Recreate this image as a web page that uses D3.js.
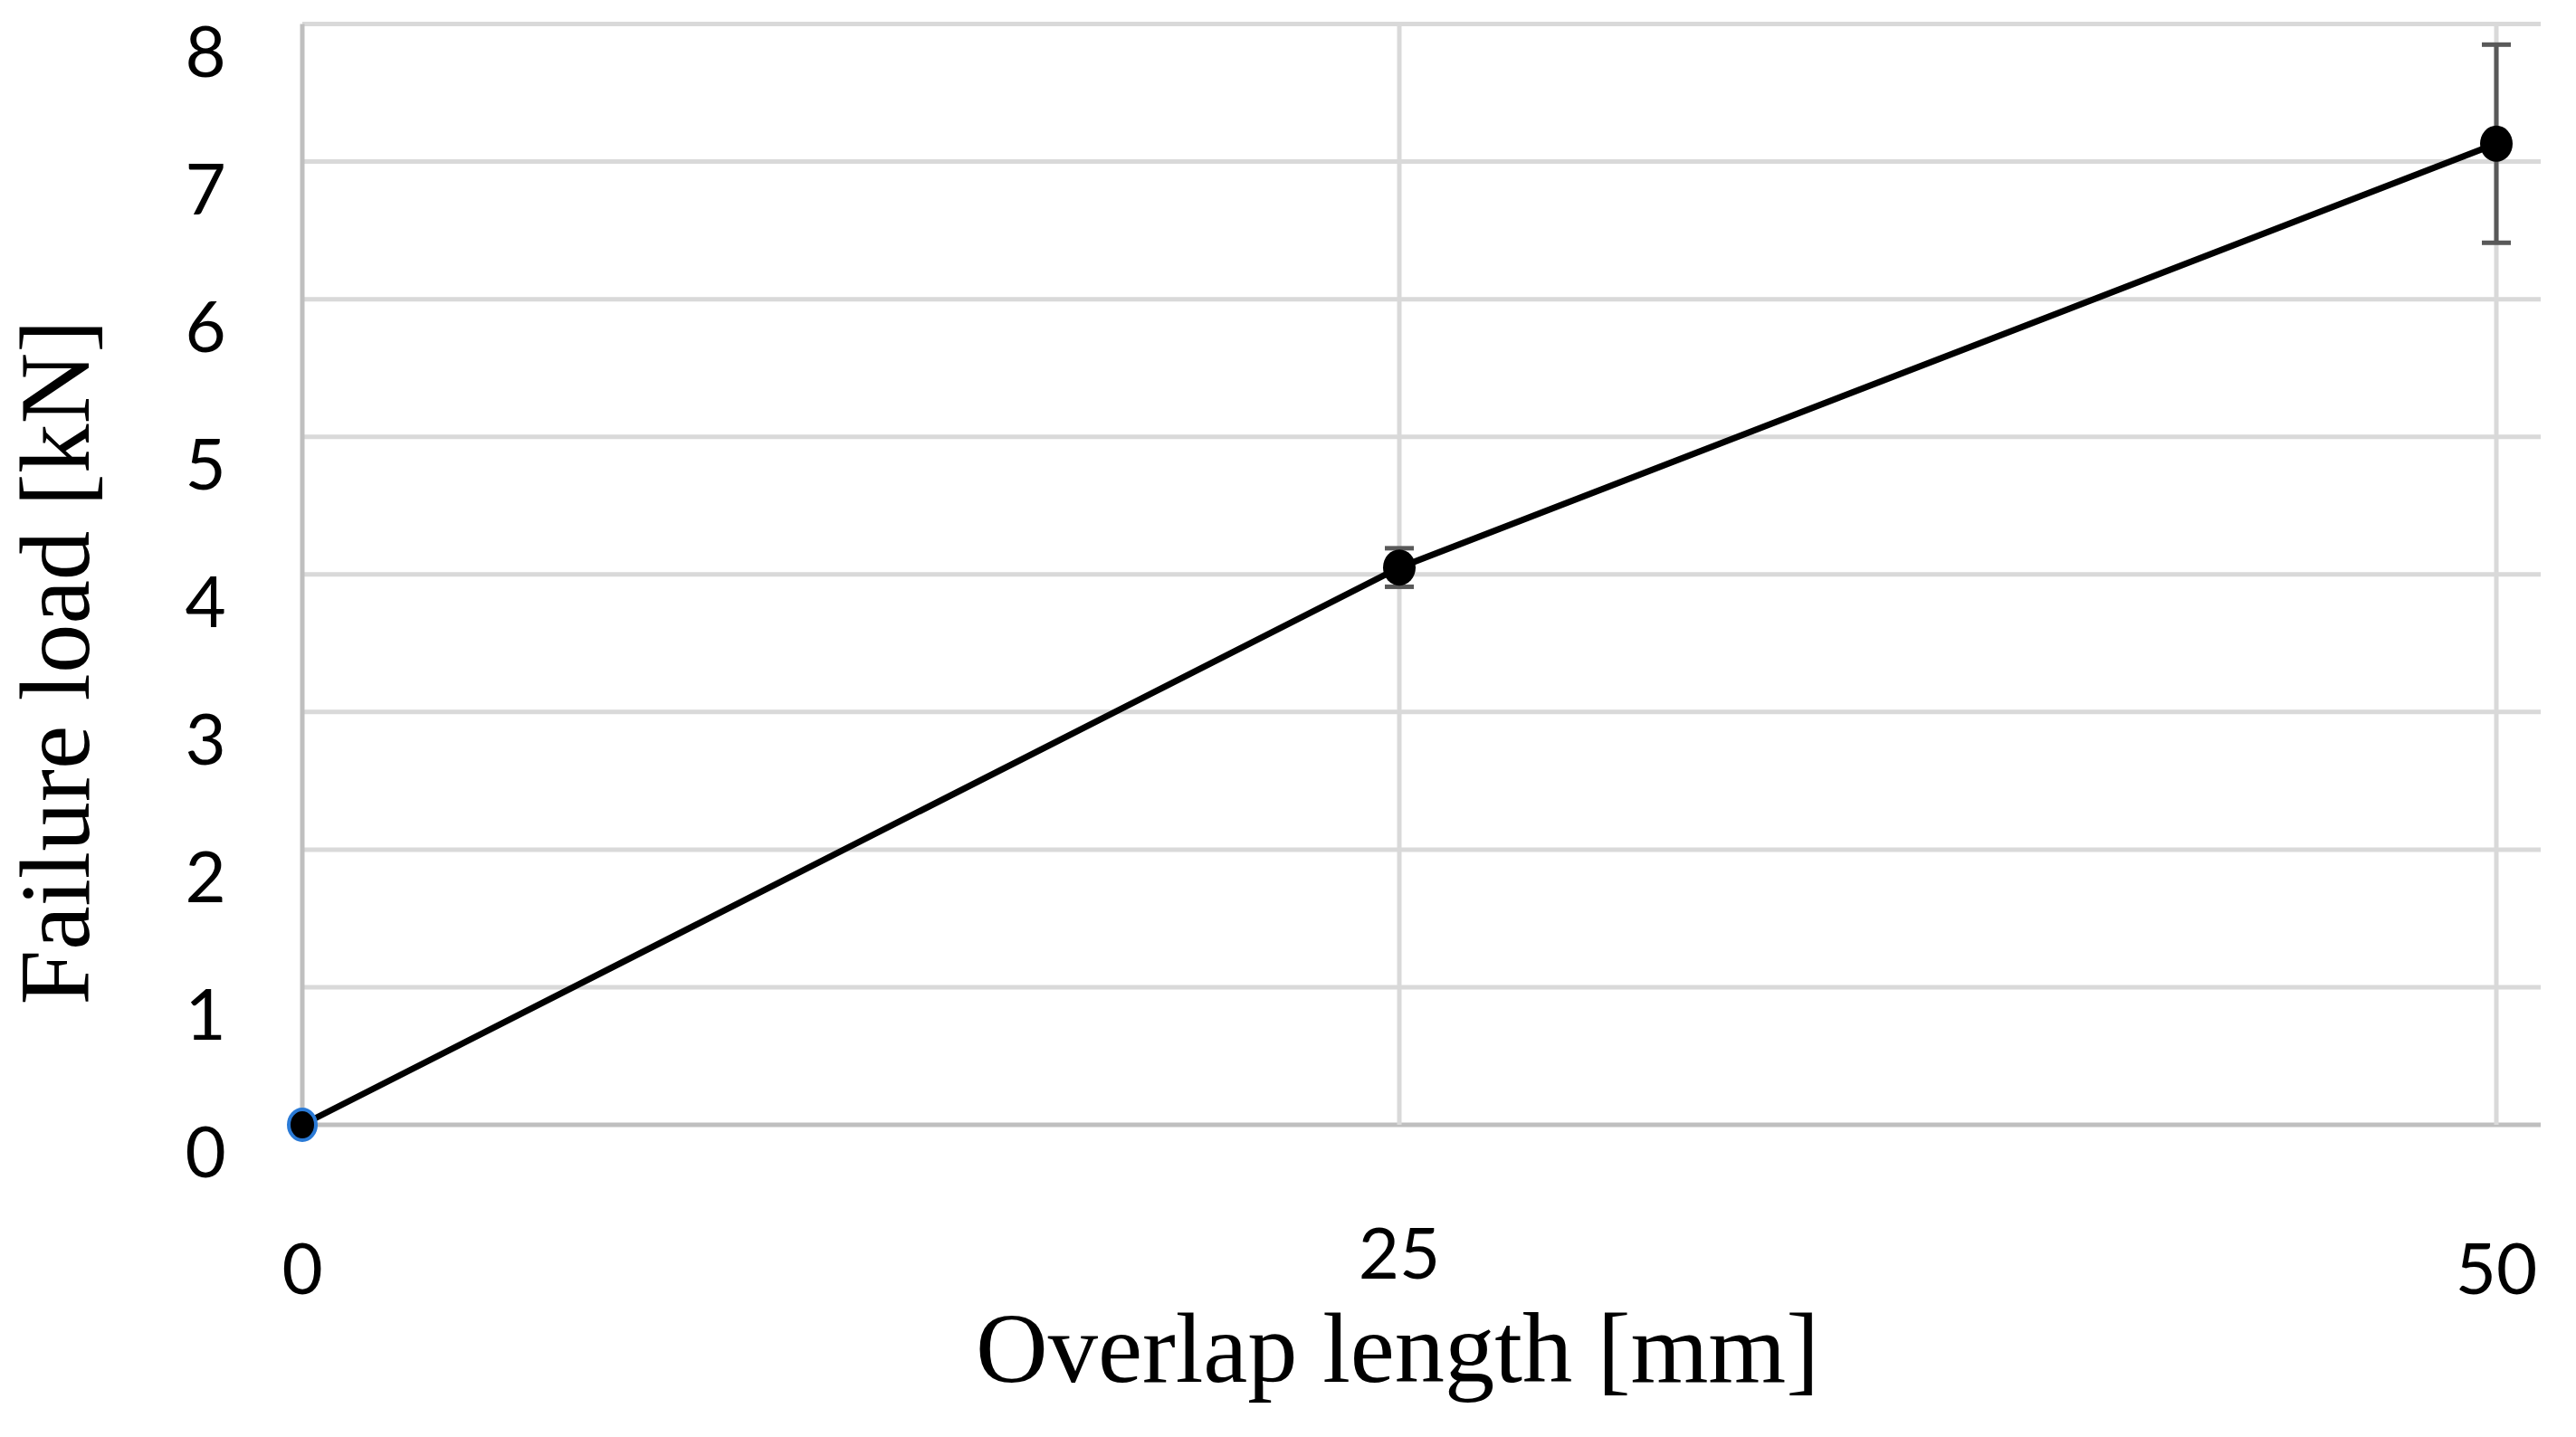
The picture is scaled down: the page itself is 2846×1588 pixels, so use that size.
<!DOCTYPE html>
<html>
<head>
<meta charset="utf-8">
<script src="https://cdn.jsdelivr.net/npm/d3@7"></script>
<style>
  html, body { margin: 0; padding: 0; background: #fff; }
  svg { display: block; }
</style>
</head>
<body>
<script>
// ---- data ----
const overlapLengths = [0, 25, 50];            // mm
const failureLoads   = [0, 4.05, 7.13];        // kN
const errorValues    = [0, 0.14, 0.72];        // kN (±)
const xTickValues    = [0, 25, 50];
const yTickValues    = [0, 1, 2, 3, 4, 5, 6, 7, 8];
const xTitle = "Overlap length [mm]";
const yTitle = "Failure load [kN]";

const W = 2846, H = 1588;
const svg = d3.select("body").append("svg").attr("width", W).attr("height", H);

const x = d3.scaleLinear().domain([0, 50]).range([334, 2758]);
const y = d3.scaleLinear().domain([0, 8]).range([1243, 26.5]);
const plotRight = 2807;

// horizontal gridlines
svg.append("g").selectAll("line").data(yTickValues).join("line")
  .attr("x1", x(0)).attr("x2", plotRight)
  .attr("y1", d => y(d)).attr("y2", d => y(d))
  .attr("stroke", d => d === 0 ? "#bfbfbf" : "#d9d9d9")
  .attr("stroke-width", 5);

// vertical gridlines
svg.append("g").selectAll("line").data(xTickValues).join("line")
  .attr("x1", d => x(d)).attr("x2", d => x(d))
  .attr("y1", y(8)).attr("y2", y(0))
  .attr("stroke", d => d === 0 ? "#bfbfbf" : "#d9d9d9")
  .attr("stroke-width", 5);

// y tick labels
svg.append("g").selectAll("text").data(yTickValues).join("text")
  .attr("x", 227).attr("y", d => y(d) + 58)
  .attr("text-anchor", "middle")
  .attr("font-family", "Lato, 'Open Sans', sans-serif")
  .attr("font-size", 78)
  .attr("fill", "#000")
  .text(d => d);

// x tick labels
svg.append("g").selectAll("text").data(xTickValues).join("text")
  .attr("x", d => x(d)).attr("y", d => d === 25 ? 1413 : 1430)
  .attr("text-anchor", "middle")
  .attr("font-family", "Lato, 'Open Sans', sans-serif")
  .attr("font-size", 78)
  .attr("fill", "#000")
  .text(d => d);

// axis titles
svg.append("text")
  .attr("x", 1544).attr("y", 1527)
  .attr("text-anchor", "middle")
  .attr("font-family", "'Liberation Serif', 'Times New Roman', serif")
  .attr("font-size", 110)
  .attr("textLength", 932).attr("lengthAdjust", "spacingAndGlyphs")
  .text(xTitle);

svg.append("text")
  .attr("transform", "translate(98,732) rotate(-90)")
  .attr("text-anchor", "middle")
  .attr("font-family", "'Liberation Serif', 'Times New Roman', serif")
  .attr("font-size", 110)
  .attr("textLength", 757).attr("lengthAdjust", "spacingAndGlyphs")
  .text(yTitle);

const pts = overlapLengths.map((d, i) => ({ x: d, y: failureLoads[i], e: errorValues[i] }));

// line
svg.append("path").datum(pts)
  .attr("fill", "none").attr("stroke", "#000").attr("stroke-width", 7)
  .attr("d", d3.line().x(d => x(d.x)).y(d => y(d.y)));

// error bars
const eb = svg.append("g").attr("stroke", "#595959").attr("stroke-width", 5);
pts.filter(d => d.e > 0).forEach(d => {
  eb.append("line").attr("x1", x(d.x)).attr("x2", x(d.x))
    .attr("y1", y(d.y + d.e)).attr("y2", y(d.y - d.e));
  eb.append("line").attr("x1", x(d.x) - 16).attr("x2", x(d.x) + 16)
    .attr("y1", y(d.y + d.e)).attr("y2", y(d.y + d.e));
  eb.append("line").attr("x1", x(d.x) - 16).attr("x2", x(d.x) + 16)
    .attr("y1", y(d.y - d.e)).attr("y2", y(d.y - d.e));
});

// markers
svg.append("g").selectAll("ellipse").data(pts).join("ellipse")
  .attr("cx", d => x(d.x)).attr("cy", d => y(d.y))
  .attr("rx", d => d.x === 0 ? 15 : 18)
  .attr("ry", d => d.x === 0 ? 17 : 20)
  .attr("fill", "#000")
  .attr("stroke", d => d.x === 0 ? "#2a7ad6" : "none")
  .attr("stroke-width", 4);
</script>
</body>
</html>
